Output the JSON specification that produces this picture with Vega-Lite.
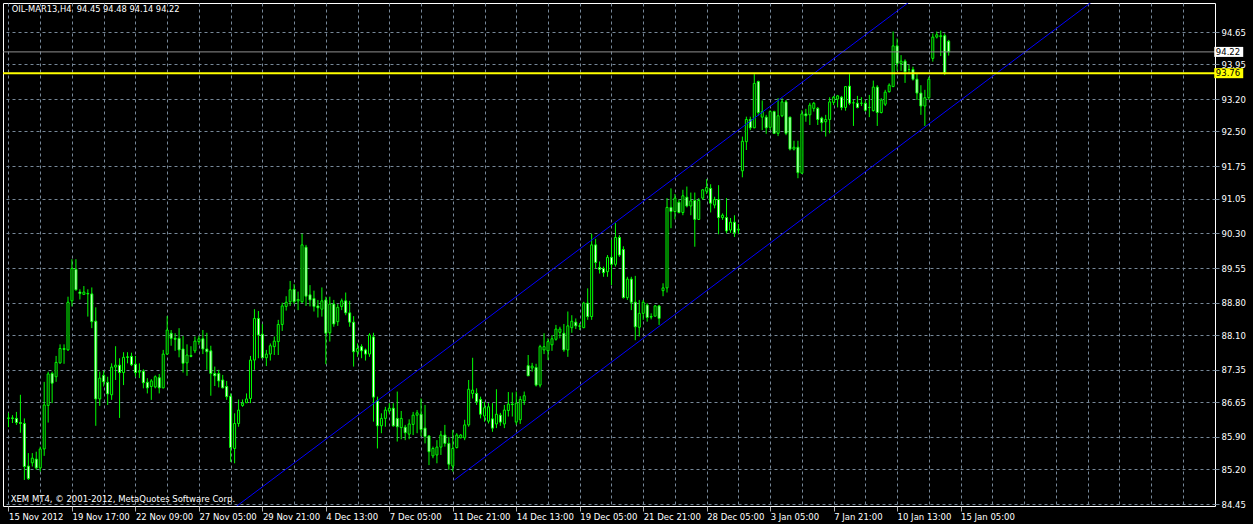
{
  "$schema": "https://vega.github.io/schema/vega-lite/v6.json",
  "width": 1212,
  "height": 503,
  "autosize": "none",
  "padding": {"left": 3, "top": 3, "right": 38, "bottom": 18},
  "background": "black",
  "view": {"stroke": "white", "strokeWidth": 1},
  "config": {
    "font": "DejaVu Sans",
    "axis": {"labelFont": "DejaVu Sans", "labelFontSize": 8.5, "labelColor": "white", "labelOverlap": false, "labelFlush": false, "labelBound": false}
  },
  "datasets": {
    "candles": [
      {"i":0,"o":86.30,"h":86.42,"l":86.11,"c":86.31},
      {"i":1,"o":86.31,"h":86.37,"l":86.20,"c":86.30},
      {"i":2,"o":86.30,"h":86.44,"l":86.16,"c":86.21},
      {"i":3,"o":86.21,"h":86.81,"l":85.99,"c":86.19},
      {"i":4,"o":86.19,"h":86.30,"l":84.97,"c":85.26},
      {"i":5,"o":85.27,"h":85.55,"l":84.97,"c":85.00},
      {"i":6,"o":85.34,"h":85.55,"l":85.26,"c":85.44},
      {"i":7,"o":85.42,"h":85.58,"l":85.19,"c":85.23},
      {"i":8,"o":85.23,"h":85.69,"l":85.15,"c":85.64},
      {"i":9,"o":85.64,"h":87.09,"l":85.49,"c":86.59},
      {"i":10,"o":86.58,"h":87.31,"l":86.21,"c":87.26},
      {"i":11,"o":87.27,"h":87.31,"l":86.63,"c":87.06},
      {"i":12,"o":87.20,"h":87.65,"l":87.09,"c":87.51},
      {"i":13,"o":87.50,"h":87.90,"l":87.48,"c":87.81},
      {"i":14,"o":87.81,"h":87.90,"l":87.48,"c":87.79},
      {"i":15,"o":87.78,"h":88.93,"l":87.76,"c":88.81},
      {"i":16,"o":88.84,"h":89.74,"l":88.72,"c":89.54},
      {"i":17,"o":89.52,"h":89.74,"l":89.06,"c":89.08},
      {"i":18,"o":89.03,"h":89.09,"l":88.87,"c":89.00},
      {"i":19,"o":88.98,"h":89.16,"l":88.97,"c":89.03},
      {"i":20,"o":89.00,"h":89.09,"l":88.50,"c":88.99},
      {"i":21,"o":88.99,"h":89.13,"l":88.25,"c":88.39},
      {"i":22,"o":88.40,"h":88.70,"l":86.14,"c":86.72},
      {"i":23,"o":86.72,"h":87.31,"l":86.57,"c":87.17},
      {"i":24,"o":87.23,"h":87.33,"l":86.99,"c":87.09},
      {"i":25,"o":87.08,"h":87.20,"l":86.59,"c":86.83},
      {"i":26,"o":86.81,"h":87.49,"l":86.70,"c":87.41},
      {"i":27,"o":87.41,"h":87.86,"l":87.13,"c":87.45},
      {"i":28,"o":87.45,"h":87.60,"l":86.31,"c":87.29},
      {"i":29,"o":87.29,"h":87.73,"l":87.02,"c":87.62},
      {"i":30,"o":87.63,"h":87.73,"l":87.49,"c":87.62},
      {"i":31,"o":87.64,"h":87.72,"l":87.43,"c":87.46},
      {"i":32,"o":87.47,"h":87.65,"l":87.20,"c":87.29},
      {"i":33,"o":87.30,"h":87.49,"l":87.17,"c":87.32},
      {"i":34,"o":87.32,"h":87.36,"l":86.95,"c":87.07},
      {"i":35,"o":87.08,"h":87.17,"l":86.84,"c":86.96},
      {"i":36,"o":86.99,"h":87.15,"l":86.70,"c":87.11},
      {"i":37,"o":86.98,"h":87.23,"l":86.95,"c":87.20},
      {"i":38,"o":87.18,"h":87.26,"l":86.84,"c":86.96},
      {"i":39,"o":86.96,"h":87.78,"l":86.95,"c":87.69},
      {"i":40,"o":87.69,"h":88.51,"l":87.67,"c":88.21},
      {"i":41,"o":88.14,"h":88.21,"l":87.87,"c":88.03},
      {"i":42,"o":88.03,"h":88.14,"l":87.76,"c":88.01},
      {"i":43,"o":88.03,"h":88.25,"l":87.62,"c":87.78},
      {"i":44,"o":87.80,"h":88.08,"l":87.29,"c":87.49},
      {"i":45,"o":87.50,"h":87.90,"l":87.22,"c":87.67},
      {"i":46,"o":87.66,"h":87.86,"l":87.62,"c":87.64},
      {"i":47,"o":87.76,"h":88.07,"l":87.71,"c":87.97},
      {"i":48,"o":87.96,"h":88.08,"l":87.89,"c":88.02},
      {"i":49,"o":88.02,"h":88.21,"l":87.69,"c":87.80},
      {"i":50,"o":87.80,"h":88.15,"l":87.35,"c":87.74},
      {"i":51,"o":87.76,"h":87.87,"l":86.79,"c":87.27},
      {"i":52,"o":87.27,"h":87.42,"l":87.00,"c":87.22},
      {"i":53,"o":87.27,"h":87.35,"l":86.97,"c":87.11},
      {"i":54,"o":87.13,"h":87.24,"l":86.95,"c":86.96},
      {"i":55,"o":86.99,"h":87.11,"l":86.70,"c":86.77},
      {"i":56,"o":86.78,"h":86.84,"l":85.36,"c":85.67},
      {"i":57,"o":85.65,"h":86.41,"l":85.33,"c":86.19},
      {"i":58,"o":86.19,"h":86.71,"l":86.12,"c":86.48},
      {"i":59,"o":86.58,"h":86.71,"l":86.55,"c":86.63},
      {"i":60,"o":86.64,"h":86.84,"l":86.63,"c":86.72},
      {"i":61,"o":86.73,"h":87.65,"l":86.63,"c":87.56},
      {"i":62,"o":87.56,"h":88.66,"l":87.35,"c":88.46},
      {"i":63,"o":88.46,"h":88.62,"l":87.60,"c":88.10},
      {"i":64,"o":88.12,"h":88.34,"l":87.60,"c":87.61},
      {"i":65,"o":87.61,"h":87.78,"l":87.43,"c":87.69},
      {"i":66,"o":87.69,"h":87.92,"l":87.55,"c":87.87},
      {"i":67,"o":87.85,"h":88.07,"l":87.67,"c":87.97},
      {"i":68,"o":87.96,"h":88.43,"l":87.67,"c":88.33},
      {"i":69,"o":88.33,"h":88.80,"l":88.19,"c":88.73},
      {"i":70,"o":88.72,"h":88.94,"l":88.63,"c":88.81},
      {"i":71,"o":88.82,"h":89.27,"l":88.73,"c":89.08},
      {"i":72,"o":89.09,"h":89.20,"l":88.77,"c":88.82},
      {"i":73,"o":88.84,"h":89.04,"l":88.64,"c":88.87},
      {"i":74,"o":88.82,"h":90.29,"l":88.79,"c":90.05},
      {"i":75,"o":90.00,"h":90.05,"l":88.73,"c":88.94},
      {"i":76,"o":88.97,"h":89.18,"l":88.72,"c":88.86},
      {"i":77,"o":88.89,"h":89.06,"l":88.61,"c":88.72},
      {"i":78,"o":88.73,"h":88.86,"l":88.48,"c":88.69},
      {"i":79,"o":88.66,"h":89.13,"l":88.50,"c":88.84},
      {"i":80,"o":88.86,"h":88.93,"l":87.47,"c":88.14},
      {"i":81,"o":88.15,"h":88.93,"l":87.96,"c":88.77},
      {"i":82,"o":88.77,"h":88.86,"l":88.28,"c":88.34},
      {"i":83,"o":88.39,"h":88.77,"l":88.30,"c":88.70},
      {"i":84,"o":88.72,"h":88.89,"l":88.64,"c":88.84},
      {"i":85,"o":88.84,"h":89.02,"l":88.53,"c":88.58},
      {"i":86,"o":88.58,"h":88.84,"l":88.28,"c":88.38},
      {"i":87,"o":88.38,"h":88.51,"l":87.42,"c":87.74},
      {"i":88,"o":87.74,"h":87.92,"l":87.63,"c":87.81},
      {"i":89,"o":87.85,"h":87.90,"l":87.60,"c":87.76},
      {"i":90,"o":87.78,"h":87.81,"l":87.55,"c":87.69},
      {"i":91,"o":87.69,"h":88.14,"l":87.63,"c":88.10},
      {"i":92,"o":88.06,"h":88.15,"l":86.23,"c":86.76},
      {"i":93,"o":86.68,"h":86.77,"l":85.65,"c":86.14},
      {"i":94,"o":86.14,"h":86.41,"l":85.98,"c":86.30},
      {"i":95,"o":86.30,"h":86.55,"l":86.12,"c":86.48},
      {"i":96,"o":86.46,"h":86.63,"l":86.41,"c":86.52},
      {"i":97,"o":86.52,"h":86.63,"l":86.12,"c":86.14},
      {"i":98,"o":86.30,"h":86.88,"l":85.80,"c":86.12},
      {"i":99,"o":86.10,"h":86.46,"l":85.85,"c":86.30},
      {"i":100,"o":86.11,"h":86.16,"l":85.83,"c":85.99},
      {"i":101,"o":85.96,"h":86.28,"l":85.85,"c":86.18},
      {"i":102,"o":86.17,"h":86.44,"l":85.94,"c":86.37},
      {"i":103,"o":86.37,"h":86.48,"l":85.98,"c":86.42},
      {"i":104,"o":86.39,"h":86.73,"l":85.91,"c":86.06},
      {"i":105,"o":86.09,"h":86.59,"l":85.76,"c":85.91},
      {"i":106,"o":85.92,"h":85.94,"l":85.29,"c":85.58},
      {"i":107,"o":85.49,"h":85.69,"l":85.44,"c":85.65},
      {"i":108,"o":85.51,"h":85.83,"l":85.33,"c":85.68},
      {"i":109,"o":85.68,"h":86.03,"l":85.51,"c":85.94},
      {"i":110,"o":85.94,"h":86.16,"l":85.69,"c":85.76},
      {"i":111,"o":85.76,"h":85.90,"l":85.19,"c":85.31},
      {"i":112,"o":85.27,"h":86.05,"l":85.15,"c":85.65},
      {"i":113,"o":85.67,"h":85.98,"l":85.65,"c":85.94},
      {"i":114,"o":85.88,"h":85.96,"l":85.87,"c":85.94},
      {"i":115,"o":85.88,"h":86.27,"l":85.83,"c":86.16},
      {"i":116,"o":86.16,"h":87.13,"l":86.12,"c":86.93},
      {"i":117,"o":86.84,"h":87.61,"l":86.73,"c":86.91},
      {"i":118,"o":86.84,"h":86.95,"l":86.59,"c":86.66},
      {"i":119,"o":86.71,"h":86.77,"l":86.30,"c":86.39},
      {"i":120,"o":86.35,"h":86.66,"l":86.23,"c":86.53},
      {"i":121,"o":86.24,"h":86.63,"l":86.19,"c":86.55},
      {"i":122,"o":86.29,"h":86.63,"l":86.01,"c":86.09},
      {"i":123,"o":86.18,"h":86.93,"l":86.09,"c":86.39},
      {"i":124,"o":86.37,"h":86.42,"l":86.14,"c":86.22},
      {"i":125,"o":86.18,"h":86.59,"l":86.09,"c":86.48},
      {"i":126,"o":86.47,"h":86.87,"l":86.34,"c":86.61},
      {"i":127,"o":86.61,"h":86.86,"l":86.34,"c":86.60},
      {"i":128,"o":86.22,"h":86.88,"l":86.16,"c":86.63},
      {"i":129,"o":86.27,"h":86.78,"l":86.18,"c":86.71},
      {"i":130,"o":86.68,"h":86.88,"l":86.59,"c":86.79},
      {"i":131,"o":87.44,"h":87.67,"l":87.22,"c":87.22},
      {"i":132,"o":87.39,"h":87.50,"l":87.31,"c":87.43},
      {"i":133,"o":87.40,"h":87.48,"l":86.99,"c":87.02},
      {"i":134,"o":87.02,"h":87.89,"l":86.97,"c":87.85},
      {"i":135,"o":87.78,"h":88.14,"l":87.69,"c":87.85},
      {"i":136,"o":87.76,"h":88.03,"l":87.56,"c":87.96},
      {"i":137,"o":87.89,"h":88.10,"l":87.76,"c":88.02},
      {"i":138,"o":88.01,"h":88.32,"l":87.98,"c":88.23},
      {"i":139,"o":88.16,"h":88.28,"l":88.03,"c":88.23},
      {"i":140,"o":88.14,"h":88.34,"l":87.74,"c":87.78},
      {"i":141,"o":87.78,"h":88.61,"l":87.63,"c":88.30},
      {"i":142,"o":88.26,"h":88.53,"l":88.15,"c":88.40},
      {"i":143,"o":88.38,"h":88.46,"l":88.23,"c":88.30},
      {"i":144,"o":88.30,"h":88.36,"l":88.21,"c":88.29},
      {"i":145,"o":88.26,"h":88.82,"l":88.25,"c":88.79},
      {"i":146,"o":88.79,"h":89.11,"l":88.43,"c":88.50},
      {"i":147,"o":88.50,"h":90.29,"l":88.43,"c":90.05},
      {"i":148,"o":90.05,"h":90.18,"l":89.54,"c":89.67},
      {"i":149,"o":89.56,"h":89.69,"l":89.43,"c":89.52},
      {"i":150,"o":89.54,"h":89.58,"l":89.36,"c":89.45},
      {"i":151,"o":89.47,"h":89.83,"l":89.36,"c":89.78},
      {"i":152,"o":89.78,"h":90.16,"l":89.18,"c":89.63},
      {"i":153,"o":89.63,"h":90.52,"l":89.58,"c":90.21},
      {"i":154,"o":90.21,"h":90.26,"l":89.79,"c":89.83},
      {"i":155,"o":89.95,"h":90.02,"l":88.89,"c":88.91},
      {"i":156,"o":88.91,"h":89.36,"l":88.86,"c":89.31},
      {"i":157,"o":89.31,"h":89.36,"l":88.64,"c":88.81},
      {"i":158,"o":88.81,"h":89.38,"l":87.99,"c":88.28},
      {"i":159,"o":88.27,"h":88.86,"l":88.07,"c":88.57},
      {"i":160,"o":88.57,"h":88.86,"l":88.43,"c":88.81},
      {"i":161,"o":88.75,"h":88.79,"l":88.39,"c":88.48},
      {"i":162,"o":88.50,"h":88.57,"l":88.44,"c":88.49},
      {"i":163,"o":88.51,"h":88.75,"l":88.50,"c":88.73},
      {"i":164,"o":88.73,"h":88.75,"l":88.32,"c":88.46},
      {"i":165,"o":89.06,"h":89.22,"l":88.94,"c":89.12},
      {"i":166,"o":89.12,"h":91.06,"l":89.02,"c":90.86},
      {"i":167,"o":90.86,"h":91.27,"l":90.41,"c":90.77},
      {"i":168,"o":90.77,"h":91.15,"l":90.60,"c":91.06},
      {"i":169,"o":90.97,"h":91.03,"l":90.73,"c":90.75},
      {"i":170,"o":90.75,"h":91.24,"l":90.69,"c":91.11},
      {"i":171,"o":91.08,"h":91.31,"l":90.86,"c":90.89},
      {"i":172,"o":90.89,"h":91.18,"l":90.69,"c":91.00},
      {"i":173,"o":91.01,"h":91.18,"l":90.01,"c":90.60},
      {"i":174,"o":90.60,"h":91.06,"l":90.59,"c":91.01},
      {"i":175,"o":91.06,"h":91.25,"l":91.02,"c":91.24},
      {"i":176,"o":91.21,"h":91.47,"l":91.15,"c":91.29},
      {"i":177,"o":91.27,"h":91.36,"l":90.75,"c":90.95},
      {"i":178,"o":90.91,"h":91.09,"l":90.84,"c":91.03},
      {"i":179,"o":91.03,"h":91.34,"l":90.28,"c":90.64},
      {"i":180,"o":90.64,"h":90.73,"l":90.59,"c":90.69},
      {"i":181,"o":90.64,"h":91.06,"l":90.30,"c":90.35},
      {"i":182,"o":90.37,"h":90.63,"l":90.31,"c":90.54},
      {"i":183,"o":90.54,"h":90.69,"l":90.22,"c":90.31},
      {"i":184,"o":90.37,"h":90.50,"l":90.29,"c":90.39},
      {"i":185,"o":91.65,"h":92.39,"l":91.51,"c":92.29},
      {"i":186,"o":92.28,"h":92.82,"l":92.10,"c":92.76},
      {"i":187,"o":92.76,"h":92.82,"l":92.53,"c":92.58},
      {"i":188,"o":92.58,"h":93.74,"l":92.57,"c":93.54},
      {"i":189,"o":93.58,"h":93.60,"l":92.84,"c":92.91},
      {"i":190,"o":92.81,"h":93.17,"l":92.53,"c":92.93},
      {"i":191,"o":92.81,"h":92.86,"l":92.45,"c":92.58},
      {"i":192,"o":92.59,"h":92.96,"l":92.53,"c":92.93},
      {"i":193,"o":92.93,"h":92.95,"l":92.45,"c":92.46},
      {"i":194,"o":92.46,"h":93.22,"l":92.40,"c":92.84},
      {"i":195,"o":92.84,"h":93.22,"l":92.81,"c":93.14},
      {"i":196,"o":93.14,"h":93.18,"l":92.42,"c":92.46},
      {"i":197,"o":92.81,"h":92.82,"l":92.09,"c":92.12},
      {"i":198,"o":92.12,"h":92.30,"l":92.09,"c":92.16},
      {"i":199,"o":92.16,"h":92.30,"l":91.49,"c":91.61},
      {"i":200,"o":91.60,"h":92.96,"l":91.58,"c":92.88},
      {"i":201,"o":92.88,"h":92.99,"l":92.71,"c":92.84},
      {"i":202,"o":92.86,"h":93.12,"l":92.64,"c":93.07},
      {"i":203,"o":93.00,"h":93.14,"l":92.93,"c":93.11},
      {"i":204,"o":93.00,"h":93.03,"l":92.64,"c":92.76},
      {"i":205,"o":92.79,"h":92.82,"l":92.50,"c":92.69},
      {"i":206,"o":92.71,"h":92.86,"l":92.39,"c":92.76},
      {"i":207,"o":92.76,"h":93.24,"l":92.46,"c":93.14},
      {"i":208,"o":93.13,"h":93.27,"l":93.07,"c":93.24},
      {"i":209,"o":93.20,"h":93.29,"l":93.02,"c":93.27},
      {"i":210,"o":93.24,"h":93.27,"l":92.96,"c":93.02},
      {"i":211,"o":93.02,"h":93.48,"l":92.95,"c":93.47},
      {"i":212,"o":93.48,"h":93.74,"l":93.07,"c":93.11},
      {"i":213,"o":93.12,"h":93.18,"l":92.62,"c":93.12},
      {"i":214,"o":93.11,"h":93.27,"l":93.00,"c":93.02},
      {"i":215,"o":93.11,"h":93.24,"l":93.05,"c":93.11},
      {"i":216,"o":93.11,"h":93.17,"l":92.93,"c":92.96},
      {"i":217,"o":93.02,"h":93.29,"l":92.81,"c":93.02},
      {"i":218,"o":92.95,"h":93.60,"l":92.93,"c":93.46},
      {"i":219,"o":93.46,"h":93.50,"l":92.62,"c":92.91},
      {"i":220,"o":92.91,"h":93.22,"l":92.89,"c":93.18},
      {"i":221,"o":93.09,"h":93.40,"l":93.05,"c":93.35},
      {"i":222,"o":93.36,"h":93.54,"l":93.34,"c":93.50},
      {"i":223,"o":93.47,"h":94.66,"l":93.46,"c":94.35},
      {"i":224,"o":94.35,"h":94.51,"l":93.81,"c":93.97},
      {"i":225,"o":93.97,"h":94.15,"l":93.81,"c":94.02},
      {"i":226,"o":94.02,"h":94.06,"l":93.55,"c":93.79},
      {"i":227,"o":93.84,"h":93.94,"l":93.74,"c":93.84},
      {"i":228,"o":93.84,"h":93.90,"l":93.60,"c":93.63},
      {"i":229,"o":93.63,"h":93.76,"l":93.18,"c":93.33},
      {"i":230,"o":93.33,"h":93.50,"l":92.86,"c":93.05},
      {"i":231,"o":93.05,"h":93.40,"l":92.62,"c":93.23},
      {"i":232,"o":93.23,"h":93.68,"l":93.18,"c":93.63},
      {"i":233,"o":94.08,"h":94.62,"l":94.01,"c":94.54},
      {"i":234,"o":94.54,"h":94.66,"l":94.51,"c":94.59},
      {"i":235,"o":94.55,"h":94.68,"l":94.13,"c":94.57},
      {"i":236,"o":94.57,"h":94.62,"l":93.72,"c":93.77},
      {"i":237,"o":94.45,"h":94.48,"l":94.14,"c":94.22}
    ],
    "levels": [
      {"price": 94.22, "kind": "bid"},
      {"price": 93.76, "kind": "level"}
    ],
    "channel": [
      {"line": "upper", "bar": 57.3, "price": 84.39},
      {"line": "upper", "bar": 240, "price": 96.13},
      {"line": "lower", "bar": 112.4, "price": 84.97},
      {"line": "lower", "bar": 290, "price": 96.39}
    ]
  },
  "layer": [
    {
      "data": {"name": "candles"},
      "mark": {"type": "rule", "color": "#00ff00", "strokeWidth": 1},
      "encoding": {
        "x": {
          "field": "i", "type": "quantitative",
          "scale": {"domain": [-0.125, 302.875], "nice": false, "zero": false},
          "axis": {
            "title": null,
            "orient": "bottom",
            "values": [0,8,16,24,32,40,48,56,64,72,80,88,96,104,112,120,128,136,144,152,160,168,176,184,192,200,208,216,224,232,240,248,256,264,272,280,288,296],
            "tickCount": 500,
            "grid": true, "gridColor": "#778899", "gridDash": [3, 3], "gridWidth": 1,
            "domain": false,
            "tickColor": "#b0b0b0", "tickSize": 5,
            "tickOpacity": {"condition": {"test": "datum.value % 16 === 0 && datum.value <= 240", "value": 1}, "value": 0},
            "labelExpr": "datum.value % 16 === 0 && datum.value <= 240 ? ['15 Nov 2012','19 Nov 17:00','22 Nov 09:00','27 Nov 05:00','29 Nov 21:00','4 Dec 13:00','7 Dec 05:00','11 Dec 21:00','14 Dec 13:00','19 Dec 05:00','21 Dec 21:00','28 Dec 05:00','3 Jan 05:00','7 Jan 21:00','10 Jan 13:00','15 Jan 05:00'][datum.value / 16] : ''",
            "labelAlign": "left", "labelBaseline": "top", "labelPadding": 1,
            "labelFlush": false, "labelOverlap": false, "labelBound": false
          }
        },
        "y": {
          "field": "l", "type": "quantitative",
          "scale": {"domain": [84.4069, 95.2767], "nice": false, "zero": false},
          "axis": {
            "title": null,
            "orient": "right",
            "values": [84.45, 85.2, 85.9, 86.65, 87.35, 88.1, 88.8, 89.55, 90.3, 91.05, 91.75, 92.5, 93.2, 93.95, 94.65],
            "tickCount": 500,
            "format": ".2f",
            "grid": true, "gridColor": "#778899", "gridDash": [3, 3], "gridWidth": 1,
            "domain": false,
            "tickColor": "#778899", "tickSize": 4,
            "labelPadding": 2, "labelBaseline": "middle", "labelAlign": "left",
            "labelFlush": false, "labelOverlap": false, "labelBound": false
          }
        },
        "y2": {"field": "h"}
      }
    },
    {
      "data": {"name": "candles"},
      "mark": {"type": "bar", "size": 2, "stroke": "#00ff00", "strokeWidth": 1},
      "encoding": {
        "x": {"field": "i", "type": "quantitative"},
        "y": {"field": "o", "type": "quantitative"},
        "y2": {"field": "c"},
        "fill": {"condition": {"test": "datum.c < datum.o", "value": "white"}, "value": "black"}
      }
    },
    {
      "data": {"name": "channel"},
      "mark": {"type": "line", "clip": true, "color": "#0000ff", "strokeWidth": 1},
      "encoding": {
        "x": {"field": "bar", "type": "quantitative"},
        "y": {"field": "price", "type": "quantitative"},
        "detail": {"field": "line"}
      }
    },
    {
      "data": {"name": "levels"},
      "mark": {"type": "rule"},
      "encoding": {
        "y": {"field": "price", "type": "quantitative"},
        "stroke": {"condition": {"test": "datum.kind === 'level'", "value": "#ffff00"}, "value": "#8f8f8f"},
        "strokeWidth": {"condition": {"test": "datum.kind === 'level'", "value": 2}, "value": 1}
      }
    },
    {
      "data": {"name": "levels"},
      "mark": {"type": "rule", "clip": false, "strokeCap": "butt"},
      "encoding": {
        "x": {"datum": 303.95, "type": "quantitative"},
        "x2": {"datum": 311.25},
        "y": {"field": "price", "type": "quantitative"},
        "stroke": {"condition": {"test": "datum.kind === 'level'", "value": "#ffff00"}, "value": "white"},
        "strokeWidth": {"value": 10}
      }
    },
    {
      "data": {"name": "levels"},
      "mark": {"type": "text", "clip": false, "align": "left", "baseline": "middle", "font": "DejaVu Sans", "fontSize": 8.5, "color": "black"},
      "encoding": {
        "x": {"datum": 304.35, "type": "quantitative"},
        "y": {"field": "price", "type": "quantitative"},
        "text": {"field": "price", "type": "quantitative", "format": ".2f"}
      }
    },
    {
      "data": {"values": [{"label": "OIL-MAR13,H4 \u00a094.45 94.48 94.14 94.22"}]},
      "mark": {"type": "text", "align": "left", "baseline": "middle", "font": "DejaVu Sans", "fontSize": 8.3, "color": "white"},
      "encoding": {
        "x": {"datum": 0.8, "type": "quantitative"},
        "y": {"datum": 95.125, "type": "quantitative"},
        "text": {"field": "label"}
      }
    },
    {
      "data": {"values": [{"label": "XEM MT4, © 2001-2012, MetaQuotes Software Corp."}]},
      "mark": {"type": "text", "align": "left", "baseline": "middle", "font": "DejaVu Sans", "fontSize": 8.5, "color": "white"},
      "encoding": {
        "x": {"datum": 0.55, "type": "quantitative"},
        "y": {"datum": 84.55, "type": "quantitative"},
        "text": {"field": "label"}
      }
    }
  ]
}
